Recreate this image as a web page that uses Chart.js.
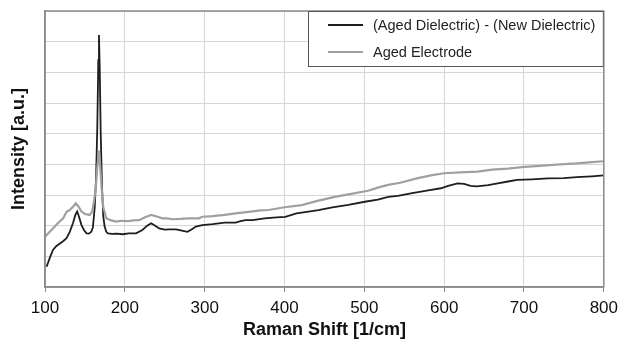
<!DOCTYPE html>
<html>
<head>
<meta charset="utf-8">
<script src="https://cdn.jsdelivr.net/npm/chart.js@4/dist/chart.umd.min.js"></script>
<style>
  html, body { margin: 0; padding: 0; background: #fff; }
  #wrap { width: 624px; height: 345px; }
</style>
</head>
<body>
<div id="wrap"><canvas id="ramanChart" width="624" height="345"></canvas></div>
<script>
// (Aged Dielectric) - (New Dielectric)
var shiftDiff = [102, 106, 110, 114, 118.7, 123, 127, 131, 135, 138, 140.3, 142.5, 145.7, 149, 152, 155, 158, 160,
  162.3, 164, 165.5, 166.8, 167.6, 168.5, 169.8, 171.5, 173, 174.7, 176.8, 178.8, 184, 190, 197.5, 205, 214, 222,
  228, 233, 238, 243, 250, 256, 264, 270, 278.5, 284, 289, 297, 310, 325, 338.7, 345, 351, 360, 375, 390, 401, 415,
  430, 442.5, 460, 480, 500.6, 517, 530, 542, 560, 580, 596, 605, 616.8, 625, 633, 641, 655, 667, 680, 691.5, 710,
  730, 750, 766, 785, 800]
var intensityDiff = [0.66, 0.95, 1.21, 1.33, 1.42, 1.50, 1.59, 1.80, 2.08, 2.35, 2.46, 2.30, 2.02, 1.85, 1.75, 1.74, 1.80, 1.95,
  2.6, 3.6, 5.2, 7.4, 8.22, 7.2, 5.0, 3.2, 2.3, 1.97, 1.80, 1.75, 1.73, 1.74, 1.72, 1.75, 1.75, 1.86,
  2.00, 2.08, 2.00, 1.91, 1.87, 1.88, 1.88, 1.85, 1.80, 1.88, 1.97, 2.02, 2.05, 2.10, 2.10, 2.15, 2.18, 2.18, 2.24, 2.27, 2.29, 2.40,
  2.46, 2.51, 2.60, 2.68, 2.78, 2.85, 2.94, 2.97, 3.06, 3.15, 3.22, 3.30, 3.38, 3.36, 3.30, 3.28, 3.32, 3.38, 3.44, 3.49, 3.51,
  3.54, 3.55, 3.58, 3.61, 3.64]

// Aged Electrode
var shiftElec = [100, 105, 110, 116, 122.8, 127, 131, 135, 138.6, 142, 145.7, 150, 156, 159, 161, 163.5, 165.5, 167.5,
  169, 171, 173, 176.8, 182, 189, 196, 204, 211, 218, 226, 233, 240, 247, 253, 260, 270, 280, 293, 297, 310, 325,
  338.7, 355, 370, 380, 400, 421.7, 440, 463, 480, 504.7, 517, 529.6, 545, 567, 585, 600, 620, 641.7, 660, 680, 700,
  720, 745, 766, 785, 800]
var intensityElec = [1.64, 1.78, 1.91, 2.08, 2.24, 2.45, 2.51, 2.62, 2.73, 2.62, 2.46, 2.38, 2.35, 2.45, 2.73, 3.2, 3.9, 4.45,
  4.0, 3.2, 2.6, 2.24, 2.18, 2.13, 2.16, 2.15, 2.17, 2.18, 2.28, 2.35, 2.30, 2.24, 2.24, 2.21, 2.22, 2.24, 2.24, 2.29, 2.31, 2.35,
  2.40, 2.45, 2.50, 2.51, 2.60, 2.67, 2.80, 2.94, 3.02, 3.14, 3.24, 3.33, 3.40, 3.55, 3.65, 3.71, 3.74, 3.76, 3.83, 3.86, 3.92,
  3.95, 4.00, 4.03, 4.07, 4.10]

var xTicks = [100, 200, 300, 400, 500, 600, 700, 800]
var seriesNames = ['(Aged Dielectric) - (New Dielectric)', 'Aged Electrode']
var seriesColors = ['#1e1e1e', '#a0a0a0']

var fontFamily = '"Liberation Sans", Arial, sans-serif'

function toPoints(xs, ys) {
  return xs.map(function (x, i) { return { x: x, y: ys[i] } })
}

// frame around the plot area + legend box in the upper right corner
var framePlugin = {
  id: 'frameAndLegend',
  afterDraw: function (chart) {
    var ctx = chart.ctx
    var a = chart.chartArea
    ctx.save()
    ctx.strokeStyle = '#8a8a8a'
    ctx.lineWidth = 1.5
    ctx.strokeRect(a.left, a.top, a.right - a.left, a.bottom - a.top)

    var boxLeft = 308, boxTop = a.top, boxRight = a.right, boxBottom = 67
    ctx.fillStyle = '#fff'
    ctx.fillRect(boxLeft, boxTop, boxRight - boxLeft, boxBottom - boxTop)
    ctx.strokeStyle = '#555'
    ctx.lineWidth = 1
    ctx.strokeRect(boxLeft + 0.5, boxTop + 0.5, boxRight - boxLeft - 1, boxBottom - boxTop - 1)

    ctx.font = '14.5px ' + fontFamily
    ctx.textBaseline = 'middle'
    ctx.textAlign = 'left'
    var rows = [25, 52]
    seriesNames.forEach(function (name, i) {
      ctx.strokeStyle = seriesColors[i]
      ctx.lineWidth = 2
      ctx.beginPath()
      ctx.moveTo(328, rows[i])
      ctx.lineTo(363, rows[i])
      ctx.stroke()
      ctx.fillStyle = '#222'
      ctx.fillText(name, 373, rows[i] + 1)
    })
    ctx.restore()
  }
}

var ctx = document.getElementById('ramanChart')

var ramanChart = new Chart(ctx, {
  type: 'line',
  data: {
    datasets: [{
      label: seriesNames[1],
      data: toPoints(shiftElec, intensityElec),
      borderColor: seriesColors[1],
      borderWidth: 2.2,
      pointRadius: 0,
      tension: 0
    }, {
      label: seriesNames[0],
      data: toPoints(shiftDiff, intensityDiff),
      borderColor: seriesColors[0],
      borderWidth: 1.8,
      pointRadius: 0,
      tension: 0
    }]
  },
  options: {
    responsive: false,
    animation: false,
    layout: { padding: { left: 0, top: 11, right: 17, bottom: 0 } },
    plugins: {
      legend: { display: false },
      tooltip: { enabled: false }
    },
    scales: {
      x: {
        type: 'linear',
        min: 100,
        max: 800,
        afterBuildTicks: function (scale) {
          scale.ticks = xTicks.map(function (v) { return { value: v } })
        },
        afterFit: function (scale) { scale.height = 58 },
        grid: { color: '#d6d6d6', lineWidth: 1, tickLength: 5, tickColor: '#8a8a8a' },
        border: { color: '#8a8a8a', width: 1.5 },
        ticks: {
          color: '#111',
          padding: 6,
          maxRotation: 0,
          font: { family: fontFamily, size: 17 }
        },
        title: {
          display: true,
          text: 'Raman Shift [1/cm]',
          color: '#111',
          padding: { top: 0, bottom: 4 },
          font: { family: fontFamily, size: 18, weight: 'bold' }
        }
      },
      y: {
        min: 0,
        max: 9,
        afterFit: function (scale) { scale.width = 45 },
        grid: { color: '#d6d6d6', lineWidth: 1, drawTicks: false, tickLength: 0 },
        border: { color: '#8a8a8a', width: 1.5 },
        ticks: { display: false, stepSize: 1 },
        title: {
          display: true,
          text: 'Intensity [a.u.]',
          color: '#111',
          padding: { top: 8, bottom: 0 },
          font: { family: fontFamily, size: 18, weight: 'bold' }
        }
      }
    }
  },
  plugins: [framePlugin]
})
</script>
</body>
</html>
